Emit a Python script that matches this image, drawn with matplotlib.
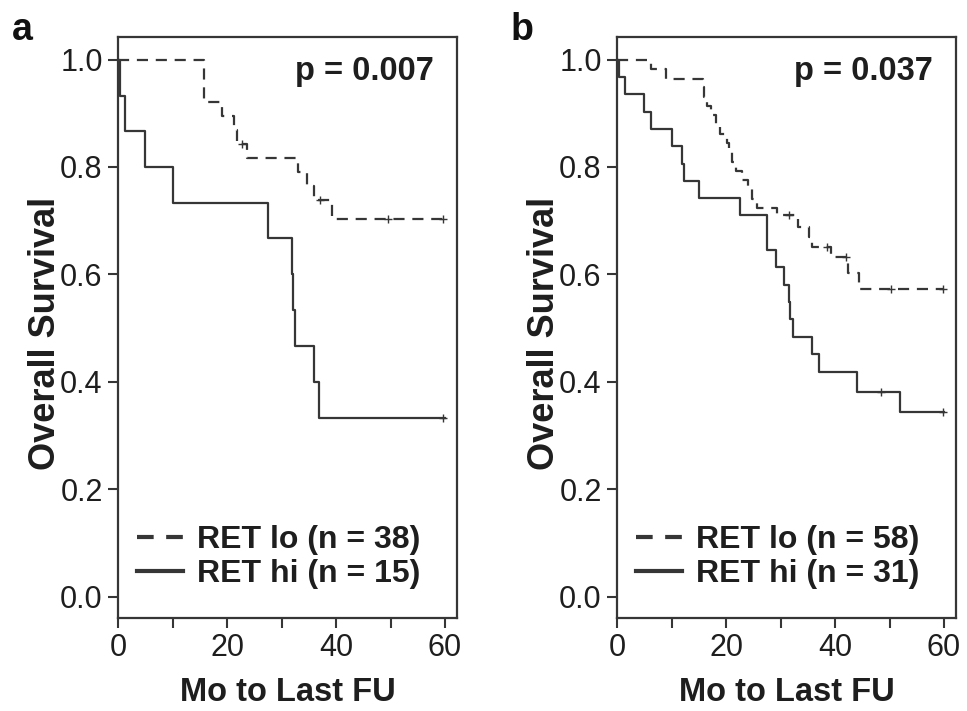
import matplotlib.pyplot as plt

plt.rcParams['font.family'] = ['Liberation Sans', 'DejaVu Sans']

# Panel a: RET lo (n = 38), RET hi (n = 15)
TiempoLoA = [0, 15.8, 19.0, 21.2, 21.9, 23.6, 33.1, 34.7, 36.0, 39.2, 60]
SupLoA = [1.0, 0.921, 0.895, 0.868, 0.842, 0.816, 0.790, 0.764, 0.738, 0.703, 0.703]
CensLoA_t = [22.7, 37.1, 49.6, 59.7]
CensLoA_s = [0.842, 0.738, 0.703, 0.703]

TiempoHiA = [0, 0.4, 1.3, 5.0, 10.1, 27.5, 31.9, 32.1, 32.4, 36.0, 36.9, 60]
SupHiA = [1.0, 0.933, 0.867, 0.800, 0.733, 0.667, 0.600, 0.533, 0.467, 0.400, 0.333, 0.333]
CensHiA_t = [59.7]
CensHiA_s = [0.333]

# Panel b: RET lo (n = 58), RET hi (n = 31)
TiempoLoB = [0, 6.3, 9.0, 15.7, 16.0, 16.5, 17.2, 18.2, 18.9, 20.2, 20.6, 21.1, 21.9,
             22.9, 24.0, 24.8, 25.7, 29.4, 33.3, 35.3, 35.8, 39.3, 42.3, 44.4, 60]
SupLoB = [1.0, 0.983, 0.964, 0.948, 0.931, 0.914, 0.897, 0.879, 0.862, 0.845, 0.828, 0.810, 0.793,
          0.776, 0.759, 0.741, 0.724, 0.710, 0.688, 0.670, 0.651, 0.632, 0.602, 0.572, 0.572]
CensLoB_t = [31.5, 38.6, 42.0, 50.3, 59.8]
CensLoB_s = [0.710, 0.651, 0.632, 0.572, 0.572]

TiempoHiB = [0, 0.3, 1.4, 4.9, 6.3, 10.1, 12.0, 12.3, 15.0, 22.6, 27.5, 29.1, 30.7, 31.5,
             31.8, 32.3, 35.8, 37.0, 44.1, 52.0, 60]
SupHiB = [1.0, 0.968, 0.935, 0.903, 0.871, 0.839, 0.806, 0.774, 0.742, 0.710, 0.645, 0.613,
          0.581, 0.548, 0.516, 0.484, 0.452, 0.419, 0.381, 0.343, 0.343]
CensHiB_t = [48.4, 59.8]
CensHiB_s = [0.381, 0.343]

Paneles = [
    ("a", "p = 0.007", "RET lo (n = 38)", "RET hi (n = 15)",
     TiempoLoA, SupLoA, CensLoA_t, CensLoA_s, TiempoHiA, SupHiA, CensHiA_t, CensHiA_s),
    ("b", "p = 0.037", "RET lo (n = 58)", "RET hi (n = 31)",
     TiempoLoB, SupLoB, CensLoB_t, CensLoB_s, TiempoHiB, SupHiB, CensHiB_t, CensHiB_s),
]

color = "#363636"
texto = "#1e1e1e"
fig = plt.figure(figsize=(9.67, 7.11), dpi=100)
izq = [118 / 967, 617 / 967]

for i, p in enumerate(Paneles):
    letra, pval, labLo, labHi, tLo, sLo, ctLo, csLo, tHi, sHi, ctHi, csHi = p
    ax = fig.add_axes([izq[i], 1 - 618 / 711, 339 / 967, 581 / 711])
    ax.step(tLo, sLo, where="post", color=color, lw=1.6, dashes=(5, 3.5), label=labLo)
    ax.plot(ctLo, csLo, "+", color=color, ms=6, mew=1)
    ax.step(tHi, sHi, where="post", color=color, lw=1.6, label=labHi)
    ax.plot(ctHi, csHi, "+", color=color, ms=6, mew=1)

    ax.set_xlim(0, 62.2)
    ax.set_ylim(-0.04, 1.042)
    ax.set_xticks([0, 20, 40, 60])
    ax.set_xticks([10, 30, 50], minor=True)
    ax.set_yticks([0.0, 0.2, 0.4, 0.6, 0.8, 1.0])
    ax.set_yticklabels(["0.0", "0.2", "0.4", "0.6", "0.8", "1.0"])
    ax.tick_params(which="both", direction="out", length=7, width=1.5, color=color,
                   labelsize=22, labelcolor=texto, pad=4)
    for sp in ax.spines.values():
        sp.set_linewidth(1.6)
        sp.set_color(color)

    ax.set_xlabel("Mo to Last FU", fontsize=23.5, fontweight="bold", color=texto)
    ax.xaxis.set_label_coords(0.5, -0.102)
    ax.set_ylabel("Overall Survival", fontsize=26, fontweight="bold", color=texto)
    ax.yaxis.set_label_coords(-0.163, 0.49)
    ax.text(0.93, 0.94, pval, transform=ax.transAxes, ha="right", va="center",
            fontsize=23.5, fontweight="bold", color=texto)
    leg = ax.legend(loc="lower left", bbox_to_anchor=(0.055, 0.05), frameon=False,
                    prop={"weight": "bold", "size": 23}, handlelength=1.45, handletextpad=0.45,
                    labelspacing=0.12, borderaxespad=0, borderpad=0)
    for t in leg.get_texts():
        t.set_color(texto)
    lineas = leg.get_lines()
    lineas[0].set_linewidth(3)
    lineas[0].set_dashes((4, 3))
    lineas[1].set_linewidth(3)
    fig.text(izq[i] - 106 / 967, 1 - 12 / 711, letra, ha="left", va="top",
             fontsize=27, fontweight="bold", color="#111111")

fig.savefig("out.png", dpi=100)
